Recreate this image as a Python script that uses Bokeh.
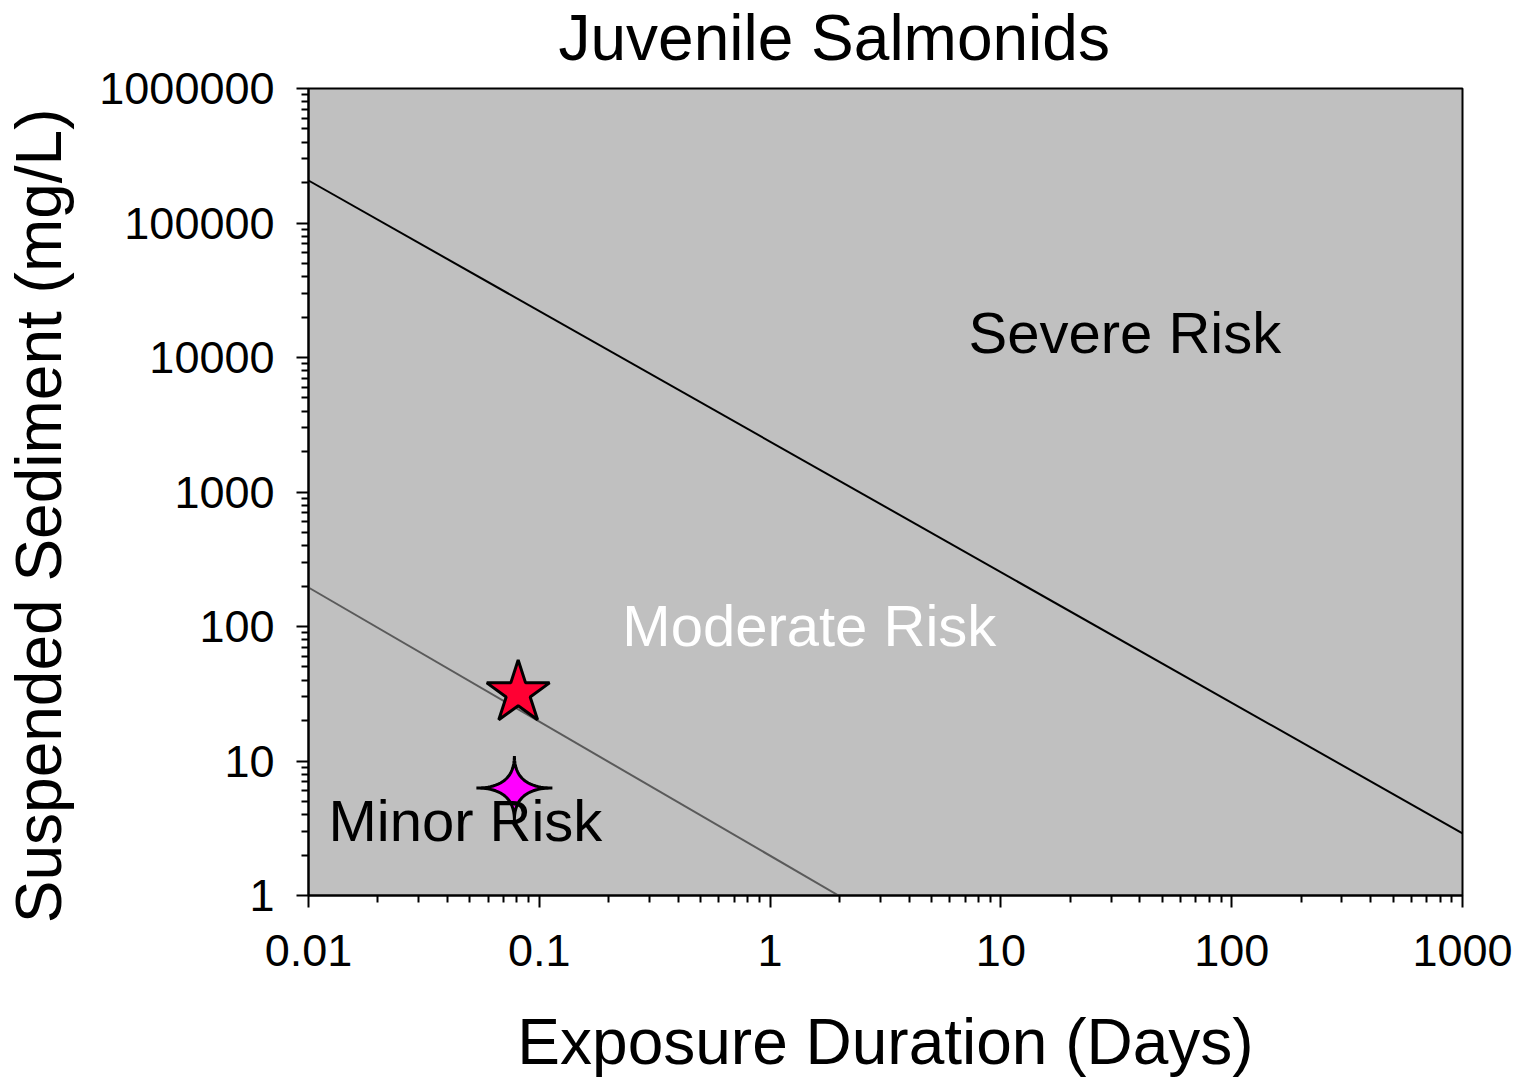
from bokeh.plotting import figure
from bokeh.models import FixedTicker, CustomJSTickFormatter, Label, Title
from bokeh.embed import file_html
from bokeh.resources import INLINE
import numpy as np

# Axis decades
x_ticks = [0.01, 0.1, 1, 10, 100, 1000]
y_ticks = [1, 10, 100, 1000, 10000, 100000, 1000000]

# Risk boundary lines (exposure days, suspended sediment mg/L)
severe_days = [0.01, 1000]
severe_mgl = [207000, 2.9]
minor_days = [0.01, 1.98]
minor_mgl = [195, 1]

# Observed samples
star_days = [0.081]
star_mgl = [32]
cross_days = [0.078]
cross_mgl = [6.3]

# Region labels
region_names = ["Severe Risk", "Moderate Risk", "Minor Risk"]
region_days = [7.24, 0.229, 0.0122]
region_mgl = [15350, 101.7, 3.61]
region_colors = ["black", "white", "black"]

title_text = "Juvenile Salmonids"
x_label = "Exposure Duration (Days)"
y_label = "Suspended Sediment (mg/L)"

FONT = "Liberation Sans"
FRAME_W, FRAME_H = 1154, 807
PX_PER_DEC_X = FRAME_W / 5.0
PX_PER_DEC_Y = FRAME_H / 6.0

p = figure(width=1522, height=1077, x_axis_type="log", y_axis_type="log",
           x_range=(x_ticks[0], x_ticks[-1]), y_range=(y_ticks[0], y_ticks[-1]),
           output_backend="svg", toolbar_location=None,
           min_border_left=308, min_border_right=60, min_border_top=88, min_border_bottom=182)

p.background_fill_color = "#C0C0C0"
p.border_fill_color = "white"
p.outline_line_color = "black"
p.outline_line_width = 2
p.xgrid.visible = False
p.ygrid.visible = False

def minor_list(ticks):
    out = []
    for t in ticks[:-1]:
        out += [t * k for k in range(2, 10)]
    return out

fmt = CustomJSTickFormatter(code="return tick.toString();")

for ax, ticks in ((p.xaxis[0], x_ticks), (p.yaxis[0], y_ticks)):
    ax.ticker = FixedTicker(ticks=ticks, minor_ticks=minor_list(ticks))
    ax.formatter = fmt
    ax.axis_line_width = 2
    ax.axis_line_color = "black"
    ax.major_tick_line_width = 2
    ax.minor_tick_line_width = 2
    ax.major_tick_out = 12
    ax.major_tick_in = 0
    ax.minor_tick_out = 7
    ax.minor_tick_in = 0
    ax.major_label_text_font = FONT
    ax.major_label_text_font_size = "45px"
    ax.major_label_text_color = "black"

p.xaxis.major_label_standoff = 27
p.yaxis.major_label_standoff = 22

def spacer(size):
    # blank panel that pushes the next title outward
    return Title(text=" ", text_font_size="1px", standoff=size)

# Chart title and axis titles as panel titles
title_style = dict(text_font=FONT, text_font_size="64px", text_font_style="normal",
                   text_color="black", standoff=0)

p.add_layout(spacer(10), "above")
p.add_layout(Title(text=title_text, align="left", offset=250, vertical_align="top",
                   **title_style), "above")

p.add_layout(spacer(32), "below")
p.add_layout(Title(text=x_label, align="center", vertical_align="bottom",
                   **title_style), "below")

p.add_layout(spacer(17), "left")
p.add_layout(Title(text=y_label, align="right", offset=20, vertical_align="top",
                   **title_style), "left")

# Boundary lines
p.line(severe_days, severe_mgl, line_color="black", line_width=2)
p.line(minor_days, minor_mgl, line_color="#5A5A5A", line_width=2)

# Four-pointed star with concave sides, built around its data point
def four_point_star(x0, y0, rx=38, ry=32, k=4.0, n=120):
    t = np.linspace(0, 2 * np.pi, n, endpoint=False)
    c, s = np.cos(t), np.sin(t)
    dx = rx * np.sign(c) * np.abs(c) ** k
    dy = ry * np.sign(s) * np.abs(s) ** k
    xs = x0 * 10 ** (dx / PX_PER_DEC_X)
    ys = y0 * 10 ** (dy / PX_PER_DEC_Y)
    return list(xs), list(ys)

sx, sy = four_point_star(cross_days[0], cross_mgl[0])
p.patch(sx, sy, fill_color="#FF00FF", line_color="black", line_width=3)

p.scatter(star_days, star_mgl, marker="star", size=66,
          fill_color="#FF0033", line_color="black", line_width=3)

for name, dx_, my, col in zip(region_names, region_days, region_mgl, region_colors):
    p.add_layout(Label(x=dx_, y=my, text=name, text_font=FONT, text_font_size="58px",
                       text_color=col, text_baseline="middle", text_align="left"))

open("out.html", "w").write(file_html(p, INLINE))
